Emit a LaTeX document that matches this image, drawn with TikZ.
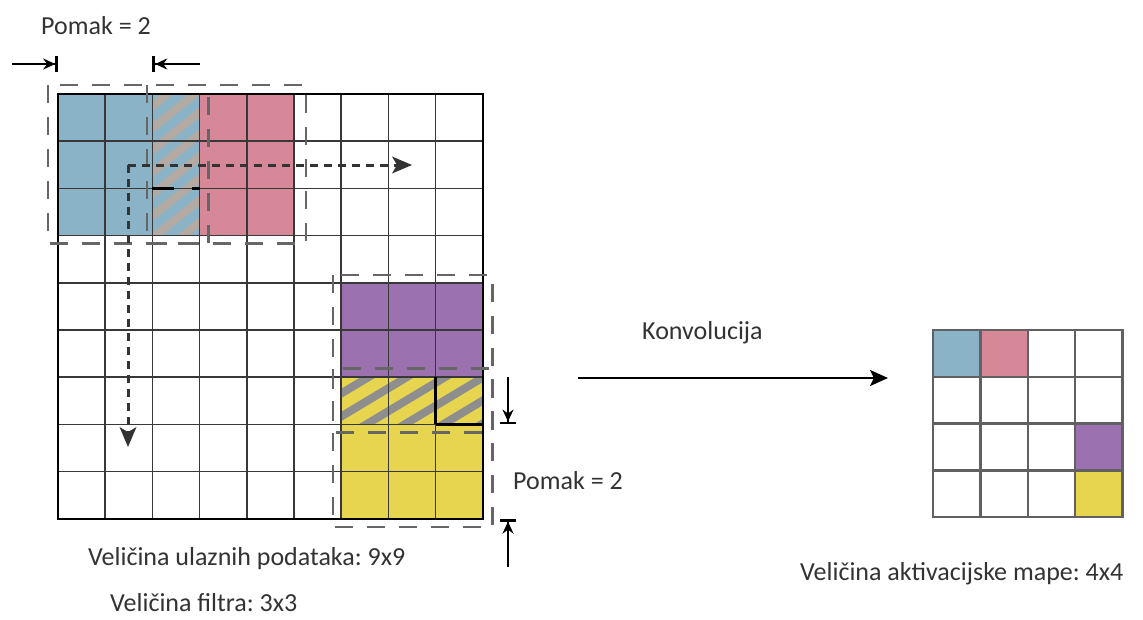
\documentclass[tikz,border=0pt]{standalone}
\usepackage{fontspec}
\setmainfont{Carlito}
\usetikzlibrary{arrows.meta}
\definecolor{cblue}{HTML}{8AB3C7}
\definecolor{cpink}{HTML}{D68898}
\definecolor{cpurple}{HTML}{9B72AF}
\definecolor{cyellow}{HTML}{E8D54F}
\definecolor{stripeA}{HTML}{B3AAA3}
\definecolor{stripeB}{HTML}{8E8E8E}
\definecolor{txt}{HTML}{333333}
\frenchspacing
\tikzset{
  lbl/.style={inner sep=0pt, anchor=base west, text=txt, font=\fontsize{26}{30}\selectfont},
  gridline/.style={draw=black!78, line width=1.5pt},
  smallgrid/.style={draw=black!62, line width=2.4pt},
  winbox/.style={draw=black!60, line width=2.2pt, dash pattern=on 18pt off 14pt},
  slide/.style={draw=black!80, line width=3pt, dash pattern=on 8pt off 6pt,
     -{Stealth[length=20pt,width=17pt,inset=5pt,line width=0pt]}},
  stride/.style={draw=black, line width=2.4pt, -{Stealth[length=12pt,width=11pt] Bar[width=16pt,line width=2.8pt]}},
  mainarrow/.style={draw=black, line width=2.8pt, -{Stealth[length=18pt,width=16pt,inset=4pt]}},
}
\begin{document}
\begin{tikzpicture}[x=1pt,y=-1pt]
\useasboundingbox (0,0) rectangle (1143,619);
% ---------- fills of the input grid ----------
\fill[cblue]   (58,94) rectangle (199.6,235.6);
\fill[cpink]   (199.6,94) rectangle (294,235.6);
\fill[cpurple] (341.2,282.8) rectangle (482.8,377.2);
\fill[cyellow] (341.2,377.2) rectangle (482.8,518.8);
% hatched overlap (blue)
\begin{scope}
  \clip (152.4,94) rectangle (199.6,235.6);
  \foreach \k in {-2,...,12}
    \draw[stripeA, line width=8pt] (140,{94+\k*22}) -- ++(80,-64);
\end{scope}
% hatched overlap (yellow)
\begin{scope}
  \clip (341.2,377.2) rectangle (482.8,424.4);
  \foreach \k in {-2,...,10}
    \draw[stripeB, line width=8pt] (330,{377.2+\k*23}) -- ++(170,-102);
\end{scope}
% ---------- input grid lines ----------
\foreach \i in {1,...,8} {
  \draw[gridline] ({58+\i*47.2},94) -- ({58+\i*47.2},518.8);
  \draw[gridline] (58,{94+\i*47.2}) -- (482.8,{94+\i*47.2});
}
\draw[black, line width=2.2pt] (58,94) rectangle (482.8,518.8);
% highlighted overlap cells
\draw[black, line width=2.6pt] (435.6,424.4) -- (435.6,377.2);
\draw[black, line width=2.6pt] (435.6,424.4) -- (482.8,424.4);
\draw[black, line width=2.6pt, dash pattern=on 22pt off 18pt] (152.4,188.4) -- (199.6,188.4);
% ---------- filter windows ----------
\draw[winbox] (48,85) rectangle (208.5,243.5);
\draw[winbox] (147,85) rectangle (306,243.5);
\draw[winbox] (333,275) rectangle (492.5,432.5);
\draw[winbox] (333,368.5) rectangle (492.5,527);
% ---------- sliding arrows ----------
\coordinate (s0) at (128,165);
\coordinate (sr) at (412,165);
\coordinate (sd) at (128,447);
\draw[slide] (s0) -- (sr);
\draw[slide] (s0) -- (sd);
% ---------- stride markers ----------
\coordinate (a1) at (12,64);   \coordinate (b1) at (58,64);
\coordinate (a2) at (200,64);  \coordinate (b2) at (152.4,64);
\coordinate (a3) at (508,377); \coordinate (b3) at (508,424.4);
\coordinate (a4) at (508,567); \coordinate (b4) at (508,518.8);
\draw[stride] (a1) -- (b1);
\draw[stride] (a2) -- (b2);
\draw[stride] (a3) -- (b3);
\draw[stride] (a4) -- (b4);
% ---------- output grid ----------
\fill[cblue]   (933,330) rectangle (980.4,376.8);
\fill[cpink]   (980.4,330) rectangle (1027.8,376.8);
\fill[cpurple] (1075.2,423.6) rectangle (1122.6,470.4);
\fill[cyellow] (1075.2,470.4) rectangle (1122.6,517.2);
\foreach \i in {1,2,3} {
  \draw[smallgrid] ({933+\i*47.4},330) -- ({933+\i*47.4},517.2);
  \draw[smallgrid] (933,{330+\i*46.8}) -- (1122.6,{330+\i*46.8});
}
\draw[smallgrid] (933,330) rectangle (1122.6,517.2);
% ---------- convolution arrow ----------
\coordinate (m0) at (578,378);
\coordinate (m1) at (888,378);
\draw[mainarrow] (m0) -- (m1);
% ---------- labels ----------
\node[lbl] (pomakA) at (41,34) {Pomak = 2};
\node[lbl] (konv) at (642,339) {Konvolucija};
\node[lbl] (pomakB) at (513,489) {Pomak = 2};
\node[lbl] (ulaz) at (88,565) {Veličina ulaznih podataka: 9x9};
\node[lbl] (filt) at (110,611) {Veličina filtra: 3x3};
\node[lbl] (akt) at (800,580) {Veličina aktivacijske mape: 4x4};
\end{tikzpicture}
\end{document}
